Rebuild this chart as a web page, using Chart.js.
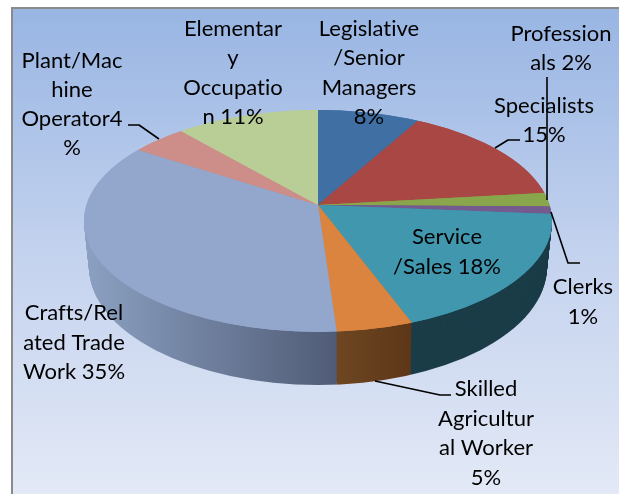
<!DOCTYPE html>
<html><head><meta charset="utf-8">
<style>html,body{margin:0;padding:0;background:#fff}canvas{display:block}</style>
<script src="https://cdn.jsdelivr.net/npm/chart.js@4/dist/chart.umd.min.js"></script>
</head><body><canvas id="c" width="619" height="494"></canvas>
<script>
const categories = ["Legislative/Senior Managers","Specialists","Professionals","Clerks","Service/Sales","Skilled Agricultural Worker","Crafts/Related Trade Work","Plant/Machine Operator","Elementary Occupation"];
const shares = [8.1,15.1,2,1.1,18,4.6,35.3,4.4,11.4];
const faceColors = ["#3f6fa3","#a94744","#8aa64d","#735a8f","#4097ae","#da8440","#93a7cd","#cd8e8a","#b9cd96"];
const wallStart = ["#2b4d72","#763130","#607436","#503f64","#1b3d48","#6e4622","#8ca1c2","#8f6360","#818f69"];
const wallEnd = ["#2b4d72","#763130","#607436","#503f64","#1b3d48","#5c3617","#505c77","#8f6360","#818f69"];
const labelLines = [
  ["Legislative","/Senior","Managers","8%"],
  ["Specialists","15%"],
  ["Profession","als 2%"],
  ["Clerks","1%"],
  ["Service","/Sales 18%"],
  ["Skilled","Agricultur","al Worker","5%"],
  ["Crafts/Rel","ated Trade","Work 35%"],
  ["Plant/Mac","hine","Operator4","%"],
  ["Elementar","y","Occupatio","n 11%"]
];
const labelAnchors = [[369,36],[544,113],[561,41],[583,294],[447,244],[486,396],[74,320],[72,68],[233,36]];
const labelPitch = [29.3,29,28.5,30,30,29.6,29.5,29,29.3];
const leaders = [
  [[128,125],[139,125],[159,139]],
  [[520,140],[508,140],[495,148]],
  [[547,77],[547,200]],
  [[551,212],[568,263],[580,263]],
  [[375,381],[440,395],[451,395]]
];
const apex = {x:318,y:205}, squash = 0.47, reach = 320, depth = 53;
const topRim = {cy:221,rx:234,ry:111}, bottomRim = {cy:267,rx:229,ry:118};
const wallSpan = {5:[336,413],6:[84,336]};

function drawArc(chart, arc, ax, ay, fill){
  const ctx = chart.ctx, k = reach/arc.outerRadius;
  ctx.save();
  ctx.translate(ax,ay); ctx.scale(k,k*squash); ctx.translate(-arc.x,-arc.y);
  let paint = fill;
  if (Array.isArray(fill)) {
    const ux = X => arc.x + (X-ax)/k;
    paint = ctx.createLinearGradient(ux(fill[2]),0,ux(fill[3]),0);
    paint.addColorStop(0,fill[0]); paint.addColorStop(1,fill[1]);
  }
  const saved = arc.options;
  arc.options = Object.assign({}, saved, {backgroundColor:paint, borderWidth:0});
  arc.draw(ctx);
  arc.options = saved;
  ctx.restore();
}
const pie3d = {
  id:'pie3d',
  beforeDraw(chart){
    const ctx = chart.ctx;
    ctx.save();
    ctx.fillStyle='#fff'; ctx.fillRect(0,0,619,494);
    const g = ctx.createLinearGradient(0,8,0,494);
    g.addColorStop(0,'#98b5e3'); g.addColorStop(0.5,'#c3d2ee'); g.addColorStop(1,'#e3e9f6');
    ctx.fillStyle=g; ctx.fillRect(12,8,607,486);
    ctx.fillStyle='#8a8a8a'; ctx.fillRect(11,7,608,2); ctx.fillRect(11,7,2,487);
    ctx.restore();
  },
  beforeDatasetsDraw(chart){
    const ctx = chart.ctx, arcs = chart.getDatasetMeta(0).data;
    for (let d = depth; d >= 0; d--) {
      const t = d/depth;
      ctx.save();
      ctx.beginPath();
      ctx.ellipse(apex.x, topRim.cy+(bottomRim.cy-topRim.cy)*t, topRim.rx+(bottomRim.rx-topRim.rx)*t, topRim.ry+(bottomRim.ry-topRim.ry)*t, 0,0,Math.PI*2);
      ctx.clip();
      arcs.forEach((arc,i)=>{
        const passes = d===0 ? 2 : 1;
        const span = wallSpan[i];
        for (let p=0;p<passes;p++)
          drawArc(chart, arc, apex.x, apex.y+d, d===0 ? faceColors[i] : (span ? [wallStart[i],wallEnd[i],span[0],span[1]] : wallStart[i]));
      });
      ctx.restore();
    }
    return false;
  },
  afterDraw(chart){
    const ctx = chart.ctx;
    ctx.save();
    ctx.strokeStyle='#000'; ctx.lineWidth=1.6; ctx.lineJoin='round';
    leaders.forEach(l=>{ctx.beginPath();l.forEach((p,i)=>i?ctx.lineTo(p[0],p[1]):ctx.moveTo(p[0],p[1]));ctx.stroke();});
    ctx.fillStyle='#000'; ctx.font='22px Lato'; ctx.letterSpacing='0.01px'; ctx.textAlign='center'; ctx.textBaseline='alphabetic';
    labelLines.forEach((lines,i)=>lines.forEach((s,j)=>ctx.fillText(s,labelAnchors[i][0],labelAnchors[i][1]+j*labelPitch[i])));
    ctx.restore();
  }
};
new Chart(document.getElementById('c'),{
  type:'pie',
  data:{labels:categories,datasets:[{data:shares,backgroundColor:faceColors,borderWidth:0}]},
  options:{
    responsive:false,animation:false,
    layout:{padding:{left:118,right:101,top:5,bottom:89}},
    plugins:{legend:{display:false},tooltip:{enabled:false},title:{display:false}}
  },
  plugins:[pie3d]
});
</script></body></html>
